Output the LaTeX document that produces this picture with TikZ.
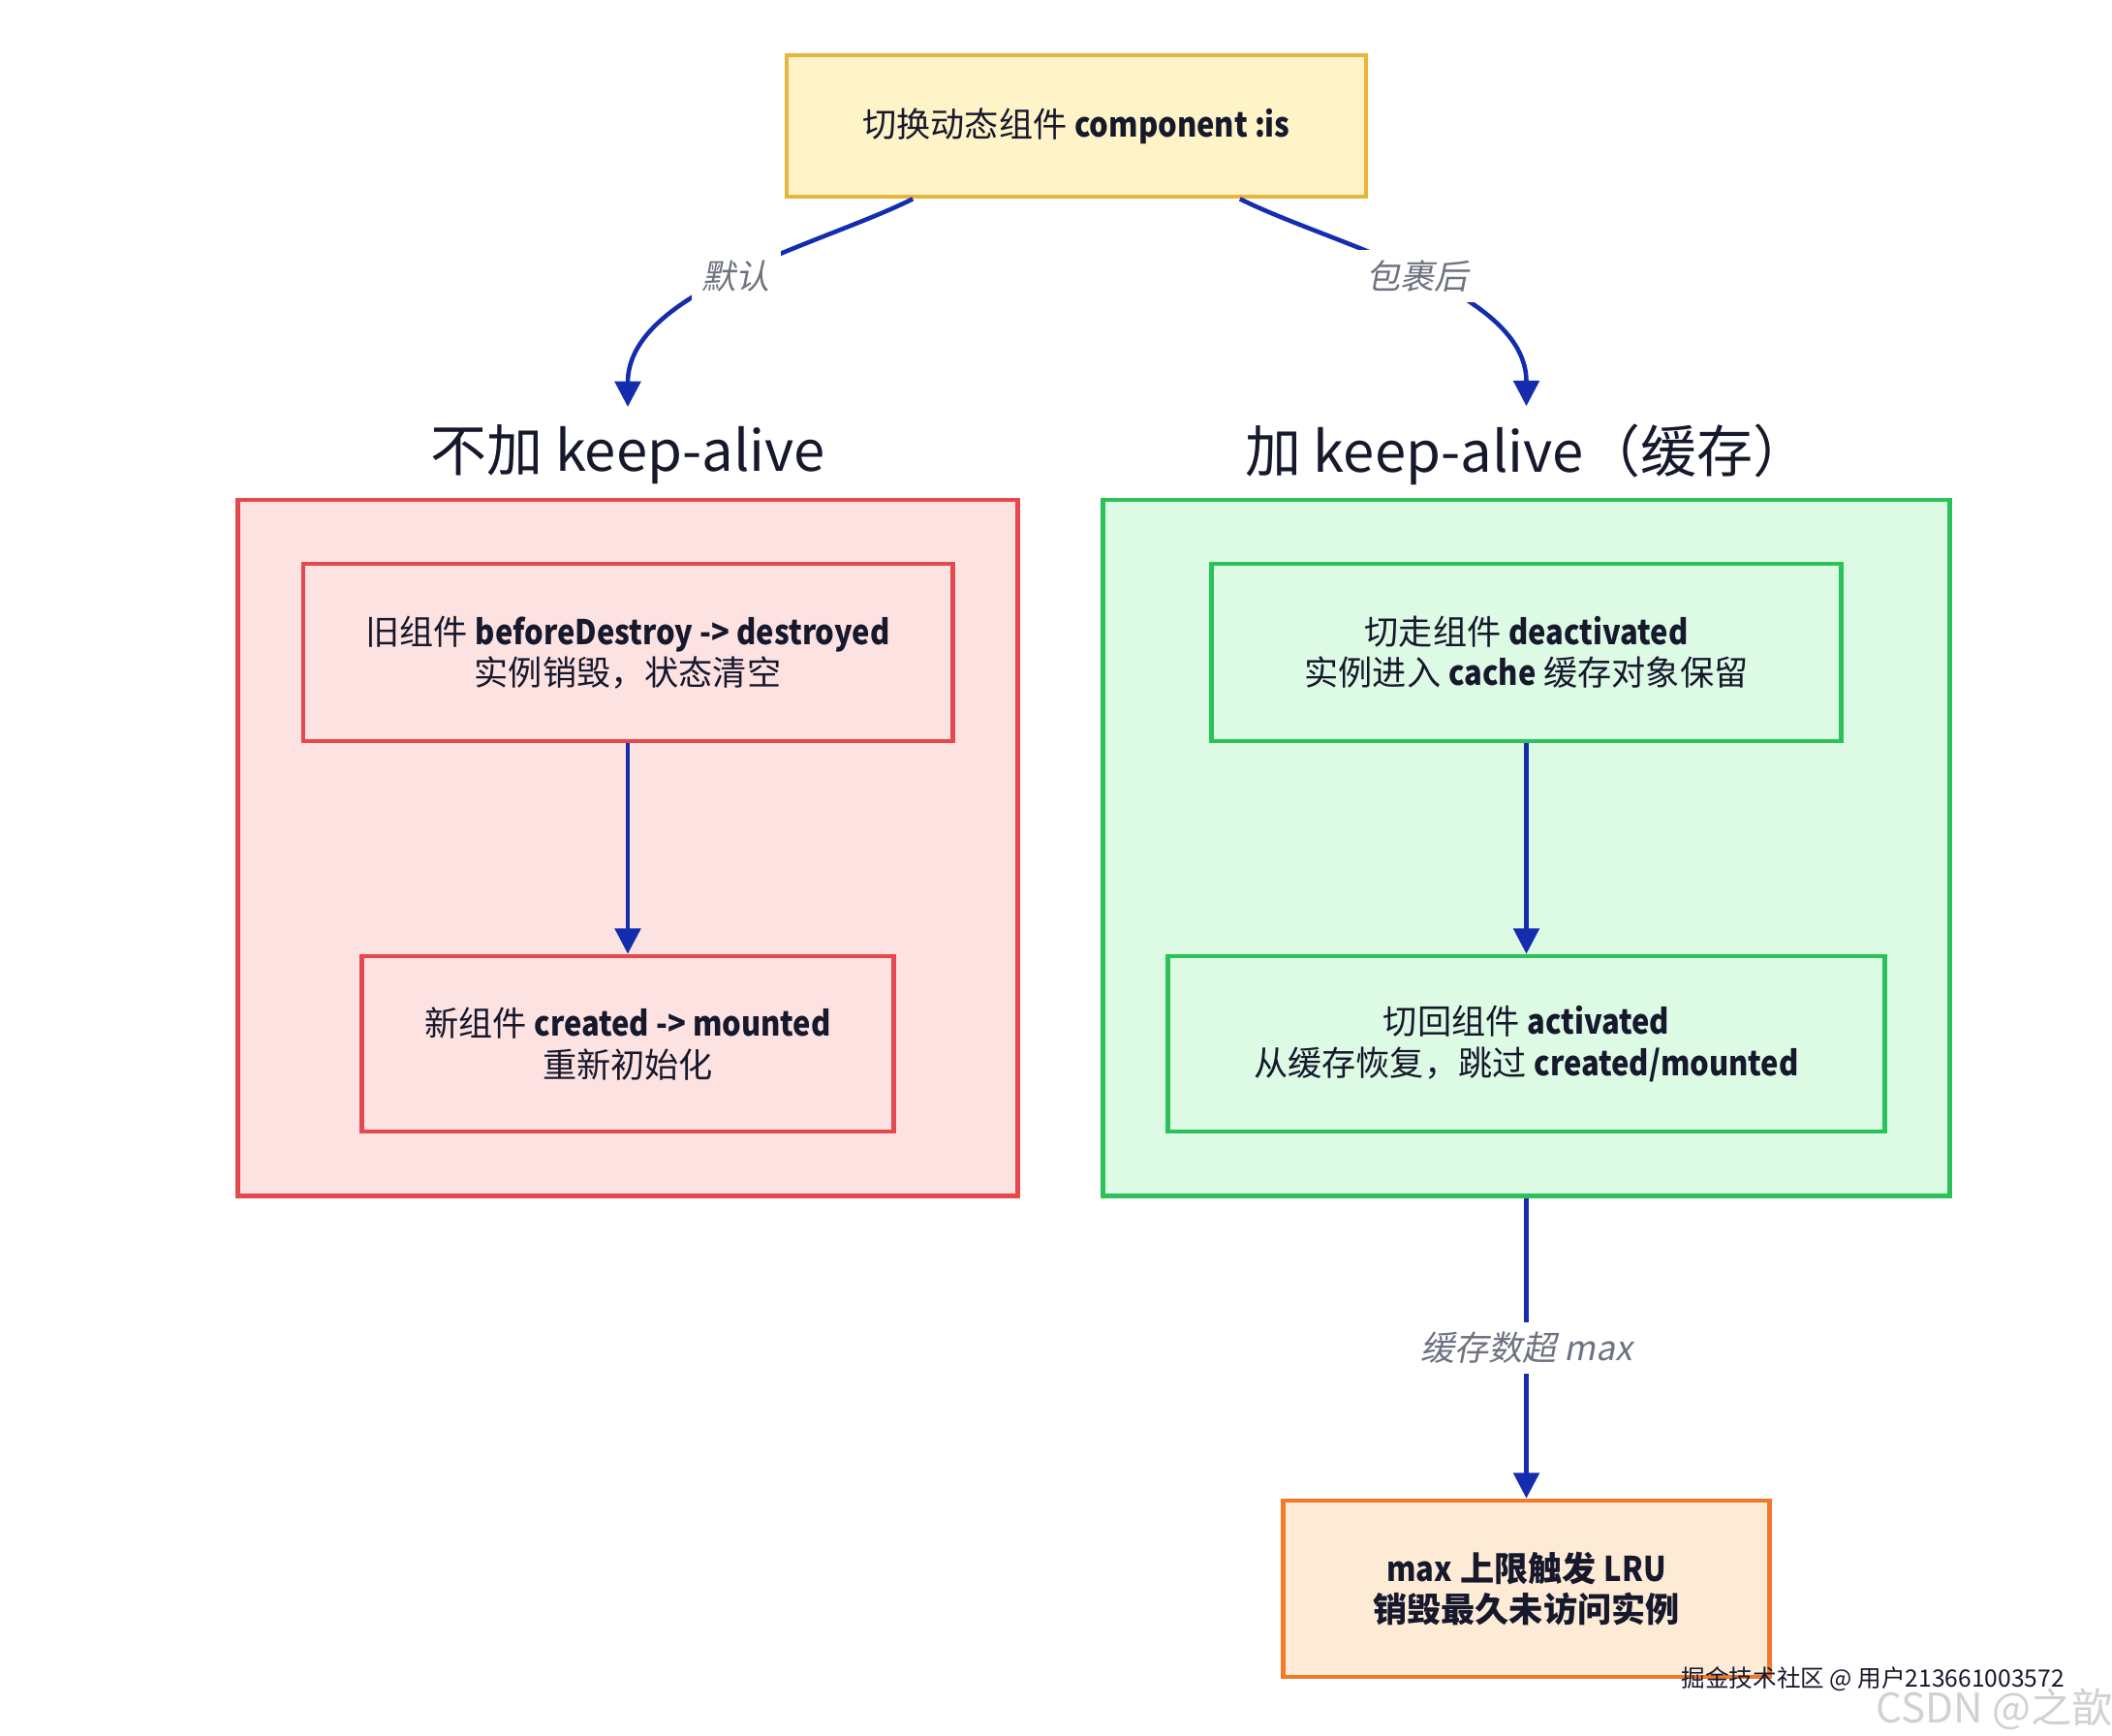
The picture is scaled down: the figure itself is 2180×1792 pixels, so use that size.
\documentclass[tikz,border=0pt]{standalone}
\usepackage{fontspec}
\setmainfont{Noto Sans CJK SC}
\newfontfamily\condfont{Noto Sans CJK SC}[FakeSlant=0.2]
\newfontfamily\hookfont{Noto Sans CJK SC}[FakeStretch=0.88]
\newcommand\hk[1]{{\hookfont\bfseries #1}}
\usepackage{tikz}
\usetikzlibrary{arrows.meta, positioning, calc}
\definecolor{ink}{RGB}{22,24,44}
\definecolor{arrowblue}{RGB}{20,45,175}
\definecolor{condgray}{RGB}{110,114,128}
\definecolor{goldF}{RGB}{255,243,200}
\definecolor{goldB}{RGB}{233,180,60}
\definecolor{redF}{RGB}{253,226,226}
\definecolor{redB}{RGB}{229,72,77}
\definecolor{greenF}{RGB}{221,250,229}
\definecolor{greenB}{RGB}{43,194,90}
\definecolor{orangeF}{RGB}{253,235,214}
\definecolor{orangeB}{RGB}{240,122,42}

\begin{document}
\begin{tikzpicture}[x=0.01cm, y=-0.01cm,
    box/.style={draw, line width=1.3pt, align=center, text=ink, font=\fontsize{10}{12}\selectfont},
    title/.style={text=ink, inner sep=5pt, font=\fontsize{16.5}{19}\selectfont},
    link/.style={arrowblue, line width=1.3pt, -{Triangle[length=7.5pt, width=7.5pt]}},
    cond/.style={fill=white, text=condgray, inner sep=3pt, font=\condfont\fontsize{10}{12}\selectfont}]
    \useasboundingbox (0,0) rectangle (2180,1792);
    % switch node
    \node[box, draw=goldB, fill=goldF, minimum width=5.98cm, minimum height=1.46cm] (switch) at (1111,130) {切换动态组件 \hk{component :is}};
    \node[title] (plainT) at (648,469) {不加 keep-alive};
    \node[title] (cacheT) at (1576,469) {加 keep-alive（缓存）};
    % two groups
    \node[box, draw=redB, fill=redF, minimum width=8.04cm, minimum height=7.18cm] (plainC) at (648,875) {};
    \node[box, draw=greenB, fill=greenF, minimum width=8.73cm, minimum height=7.18cm] (cacheC) at (1575.5,875) {};
    % without keep-alive
    \node[box, draw=redB, fill=redF, minimum width=6.7cm, minimum height=1.83cm] (oldC) at (648,673.5) {旧组件 \hk{beforeDestroy -> destroyed}\\实例销毁，状态清空};
    \node[box, draw=redB, fill=redF, minimum width=5.49cm, minimum height=1.81cm] (newC) at (648,1077.5) {新组件 \hk{created -> mounted}\\重新初始化};
    % with keep-alive
    \node[box, draw=greenB, fill=greenF, minimum width=6.5cm, minimum height=1.83cm] (leaveC) at (1575.5,673.5) {切走组件 \hk{deactivated}\\实例进入 \hk{cache} 缓存对象保留};
    \node[box, draw=greenB, fill=greenF, minimum width=7.4cm, minimum height=1.81cm] (backC) at (1575.5,1077.5) {切回组件 \hk{activated}\\从缓存恢复，跳过 \hk{created/mounted}};
    \node[box, draw=orangeB, fill=orangeF, minimum width=5.02cm, minimum height=1.82cm, font=\bfseries\fontsize{10}{12}\selectfont] (lru) at (1575.5,1640) {\hk{max} 上限触发 \hk{LRU}\\销毁最久未访问实例};
    % arrows
    \draw[link] ($(switch.south west)!0.22!(switch.south east)$) .. controls +(-94,47) and +(0,-120) .. (plainT.north) node[cond, pos=0.5] {默认};
    \draw[link] ($(switch.south west)!0.78!(switch.south east)$) .. controls +(94,47) and +(0,-120) .. (cacheT.north -| cacheC.north) node[cond, pos=0.5] {包裹后};
    \draw[link] (oldC) -- (newC);
    \draw[link] (leaveC) -- (backC);
    \draw[link] (cacheC) -- node[cond] {缓存数超 max} (lru);
    % watermark
    \node[anchor=west, text=ink, inner sep=0pt, font=\fontsize{7}{8}\selectfont] (juejin) at (1735,1733) {掘金技术社区 @ 用户213661003572};
    \node[anchor=west, text=black!18, inner sep=0pt, font=\fontsize{12}{14}\selectfont] (csdn) at (1936,1764) {CSDN @之歆};
\end{tikzpicture}
\end{document}
